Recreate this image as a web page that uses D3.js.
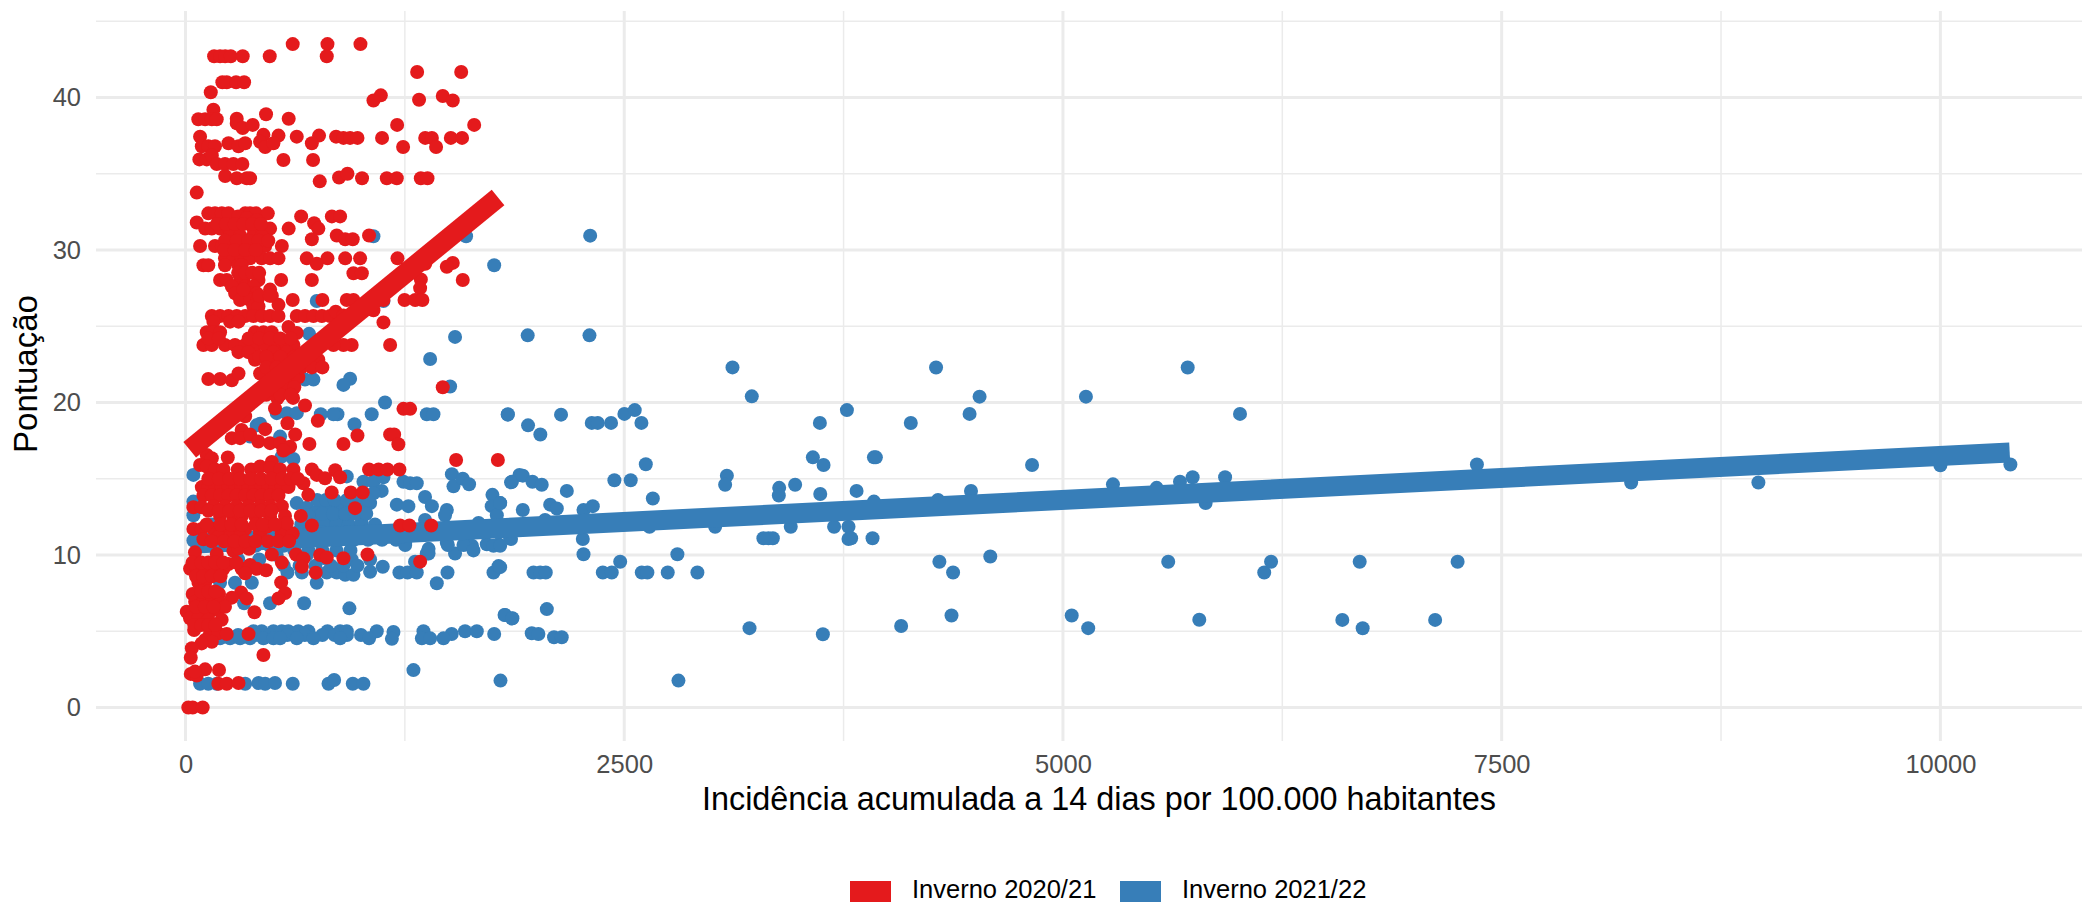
<!DOCTYPE html>
<html>
<head>
<meta charset="utf-8">
<script src="https://cdn.jsdelivr.net/npm/d3@7"></script>
<style>
  html, body { margin: 0; background: #fff; }
  text { font-family: "Liberation Sans", Arial, sans-serif; }
</style>
</head>
<body>
<script>
// Series: [incidence, score]
var red2020High = [
  [611,43.5],[809,43.5],[997,43.5],
  [163,42.7],[197,42.7],[226,42.7],[258,42.7],[326,42.7],[480,42.7],[805,42.7],
  [1320,41.67],[1571,41.67],
  [210,41],[235,41],[288,41],[334,41],
  [144,40.34],[1113,40.14],[1071,39.8],[1466,40.1],[1331,39.85],[1523,39.8],
  [159,39.2],[459,38.9],
  [73,38.57],[112,38.57],[150,38.57],[178,38.57],[292,38.6],[588,38.6],
  [292,38.3],[326,38],[383,38.2],[1206,38.2],[1645,38.2],
  [83,37.43],[444,37.55],[530,37.5],[634,37.43],[761,37.5],[858,37.43],[900,37.35],[938,37.35],[980,37.35],
  [1120,37.35],[1366,37.35],[1404,37.35],[1512,37.35],[1576,37.35],
  [93,36.8],[130,36.8],[168,36.8],[245,37],[302,36.8],[340,37],[425,37.1],[454,36.75],[501,37],[720,37],[1240,36.75],[1428,36.75],
  [79,35.94],[121,35.94],[150,36.2],[558,35.9],[727,35.9],
  [178,35.64],[225,35.64],[273,35.64],[324,35.64],
  [226,34.85],[292,34.7],[349,34.7],[368,34.7],[765,34.5],[875,34.75],[923,35],[1006,34.7],
  [1147,34.7],[1204,34.7],[1341,34.7],[1379,34.7],[64,33.76]
];
var red2020Mid = [
  [130,32.4],[168,32.4],[207,32.4],[245,32.4],[340,32.4],[368,32.4],[402,32.4],[469,32.4],[659,32.2],[834,32.2],[881,32.2],
  [64,31.8],[300,32.2],[349,32.1],[406,31.95],[733,31.75],
  [112,31.4],[150,31.4],[197,31.4],[245,31.4],[292,31.4],[387,31.4],[482,31.4],[588,31.4],[757,31.4],
  [254,31],[311,30.95],[387,30.95],[434,30.9],[862,30.95],[910,30.7],[953,30.7],[1046,30.95],[720,30.7],
  [83,30.26],[168,30.26],[207,30.26],[273,30.26],[330,30.26],[396,30.26],[454,30.26],[549,30.26],
  [225,30.6],[292,30.6],[358,30.6],[416,30.6],[472,30.6],
  [225,29.45],[273,29.45],[320,29.45],[368,29.45],[434,29.45],[482,29.45],[530,29.45],[691,29.45],[809,29.45],[910,29.45],[995,29.45],[1208,29.45],
  [748,29.1],[102,29],[130,29],[225,29],[302,29],[320,29],[1523,29.15],[1489,28.9],[1366,29.1],
  [957,28.47],[1005,28.47],
  [197,28.03],[235,28.03],[311,28.03],[330,28.03],[416,28.03],[545,28.03],[720,28.03],[1341,28.07],[1580,28.03],
  [264,27.6],[340,27.6],[387,27.6],[482,27.4],[1337,27.5],
  [283,27.15],[368,27.15],[406,27.15],[492,27],[350,26.9],
  [311,26.72],[368,26.72],[410,26.72],[611,26.72],[780,26.72],[919,26.72],[957,26.72],[1248,26.72],[1309,26.72],[1350,26.72],[1128,26.72],
  [387,26.3],[416,26.3],[530,26.4],
  [150,25.67],[197,25.67],[245,25.67],[292,25.67],[340,25.67],[387,25.67],[435,25.67],[482,25.67],[530,25.67],
  [634,25.67],[681,25.67],[729,25.67],[777,25.67],[824,25.67],[856,25.95],[900,25.7],[1071,26.05],
  [159,25.3],[254,25.3],[302,25.3],[1128,25.25],
  [121,24.6],[159,24.6],[197,24.6],[396,24.6],[444,24.6],[491,24.6],[587,24.95],[634,24.55],
  [102,23.77],[150,23.77],[225,23.77],[282,23.77],[340,23.77],[396,23.77],[454,23.77],[520,23.77],[577,23.77],[615,23.77],[947,23.77],[900,23.77],[843,23.77],[1166,23.77],
  [302,23.3],[358,23.3],[501,23.3],[577,23.3],[396,22.8],[482,22.8],[558,22.8],[672,22.8],[757,22.8],
  [130,21.54],[197,21.54],[264,21.45],[302,21.9],[425,21.9],[501,21.54],[577,21.54],[643,21.65],
  [1466,21],[613,20.3],[524,20.28],[510,19.6],[681,19.8],[1242,19.58],[1280,19.58],[754,18.8],[581,18.64],[340,19.1],
  [320,18.2],[454,18.25],[625,17.9],[980,17.83],[900,17.28],[706,17.28],[1166,17.9],[1189,17.9],[1213,17.26],
  [264,17.66],[311,17.66],[368,17.9],[415,17.44],[482,17.33],[539,17.33],[577,17],[596,17.1],[558,16.85]
];
var red2020Low = [
  [121,16.56],[150,16.34],[241,16.39],[83,15.9],[121,15.8],[1542,16.23],[1780,16.23],[492,16.1],
  [168,15.6],[216,15.6],[298,15.6],[374,15.6],[425,15.8],[482,15.7],[539,15.6],[615,15.6],[720,15.6],[853,15.55],[1046,15.6],[1100,15.6],[1151,15.6],[1219,15.6],
  [748,15.25],[795,15.03],[881,15.1],
  [93,14.45],[130,14.45],[168,14.45],[207,14.45],[245,14.45],[282,14.45],[320,14.45],[358,14.45],[396,14.45],[434,14.45],[472,14.45],[510,14.45],[549,14.45],[587,14.45],[672,14.7],[700,13.94],[833,14.1],[942,14.1],[1010,14.1],
  [102,13.9],[150,13.9],[197,13.9],[245,13.9],[292,13.9],[340,13.9],[387,13.9],[434,13.9],[482,13.9],[530,13.9],
  [159,13.2],[225,13.2],[292,13.2],[358,13.2],[425,13.2],[482,13.2],[549,13.2],[45,13.13],[92,13.13],[966,13.07],
  [197,12.56],[273,12.56],[320,12.56],[397,12.56],[482,12.5],[567,12.56],[657,12.56],[720,11.93],
  [45,11.7],[92,11.7],[159,11.7],[226,11.7],[282,11.7],[340,11.7],[425,11.43],[463,11.85],[548,11.4],[611,11.4],[577,12.08],
  [1223,11.93],[1276,11.93],[1400,11.93],
  [102,11.03],[187,11.2],[254,11.2],[311,11.2],
  [54,10.17],[178,10.06],[273,10.27],[302,10.44],[362,10.4],[492,10.03],[630,10.03],[672,9.77],[767,10],[805,9.83],[900,9.78],[1037,10.03],[1337,9.56],[549,9.5],[663,9.23],
  [26,9.1],[64,9.1],[102,9.1],[140,9.1],[178,9.1],[216,9.1],[245,9.4],[320,9.1],[368,9.34],[406,9.1],[459,9],[340,8.8],[742,8.84],
  [74,8.18],[112,8.18],[545,8.2],[41,7.44],[191,7.44],[317,7.53],[264,7.2],[349,7.15],[567,7.5],[530,7.15],
  [55,6.93],[102,6.93],[150,6.93],[197,6.85],
  [7,6.28],[45,6.3],[92,6.3],[140,6.3],[187,6.4],[225,6.6],[26,5.85],[73,5.85],[130,5.75],[206,5.75],[393,6.24],
  [49,5.08],[140,4.86],[187,4.86],[235,4.82],[359,4.82],[112,4.42],[150,4.31],[92,4.2],
  [36,3.88],[30,3.26],[444,3.44],[30,2.2],[64,2.1],[112,2.5],[54,2.35],[191,2.46],
  [187,1.55],[235,1.55],[302,1.6],[16,0],[41,0],[98,0]
];
// dense blobs where single dots can only be estimated
var red2020Dense = [
  [180,31.7],[230,31.7],[280,31.7],[330,31.7],[380,31.7],[430,31.7],
  [220,30],[280,30],[340,30],[400,30],[300,28.5],[340,28.5],[380,28.5],[420,28.5],
  [420,27],[480,27],[330,27.4],
  [130,24.2],[190,24.2],[360,24.2],[420,24.2],[480,24.2],[540,24.2],[600,24.2],
  [420,23],[460,23],[540,23],[620,23],[700,23],
  [460,22.3],[520,22.3],[600,22.3],[660,22.3],[720,22.3],[780,22.3],
  [440,21],[480,21],[560,21],[620,21],[460,20.5],[540,20.5],[600,20.5],
  [130,15],[190,15],[250,15],[310,15],[370,15],[430,15],[490,15],[550,15],[600,15],[640,15],
  [130,12.9],[190,12.9],[250,12.9],[310,12.9],[370,12.9],[430,12.9],[490,12.9],
  [120,12],[200,12],[260,12],[320,12],[400,12],[440,12],[510,12],
  [150,10.9],[220,10.9],[280,10.9],[340,10.9],[400,10.9],[470,10.9],[530,10.9],[590,10.9],
  [40,9.5],[90,9.5],[130,9.5],[170,9.5],[215,9.5],[290,9.5],
  [60,8.6],[100,8.6],[150,8.6],[200,8.6],[90,7.6],[130,7.6],[170,7.6],
  [60,6.6],[110,6.6],[160,6.6],[50,5.4],[90,5.4],[130,5.4],[170,5.4]
];
var blue2021Main = [
  [1071,30.9],[1599,30.9],[1759,29],[748,26.65],[1128,26.65],[1536,24.3],[1394,22.85],[704,24.5],[1508,21.05],
  [938,21.55],[900,21.15],[681,21.5],[729,21.5],[1137,20],[1061,19.23],[866,19.23],[843,19.23],[771,19.23],[963,18.57],
  [1375,19.23],[1413,19.23],[1837,19.23],[520,19.3],[577,19.3],[634,19.3],[406,18.5],[425,18.6],[368,17.76],[539,17.76],[615,16.3],[548,16.45],
  [45,15.25],[1518,15.3],[1527,14.5],[1580,15],[1616,14.64],[1860,14.8],[1903,15.25],
  [919,15.15],[1014,14.8],[1071,14.8],[1128,15.1],[1118,14.2],[1242,14.8],[1280,14.7],[1318,14.7],
  [1365,13.8],[1404,13.2],[1204,13.3],[1270,13.2],[1489,12.95],[1479,12.6],[1749,13.94],[1793,13.4],[1745,13.2],[1774,12.6],[1670,12.1],[1365,12.3],[1004,12.1],
  [45,13.5],[45,12.6],[150,12],[45,10.95],[92,10.95],
  [634,13.4],[691,13.1],[748,12.85],[805,13.2],[862,13.3],[900,13.1],[947,12.85],[1023,13.1],[1052,13.4],[1071,14.05],
  [767,12.3],[824,12.3],[900,12.3],[700,12.6],[660,12],[720,12],[790,12],[860,12],[930,12],[1000,12],[1080,12],
  [640,11],[720,11],[800,11],[880,11],[960,11],[1040,11],[1120,11],[1200,11],
  [1252,10.8],[1385,10.1],[1536,10.1],[1489,10.8],[1594,10.7],[1632,10.6],[1717,10.7],[1784,10.7],[1850,11.1],
  [520,10],[691,10],[786,9.8],[947,9.7],[1052,9.7],[1375,10.1],[1308,9.56],[1252,10.65],[1495,10.65],[1584,10.65],[1641,10.3],[1755,10.6],[1385,10.4],
  [250,10.6],[320,10.6],[400,10.6],[480,10.6],[560,10.6],[300,9.7],[420,9.7],
  [581,8.85],[663,8.85],[805,8.85],[862,8.85],[910,8.7],[957,8.7],[1052,8.9],[1219,8.85],[1265,8.85],[1318,8.85],[1493,8.85],[1755,8.85],[1784,9.27],[1124,9.23],
  [197,8.18],[282,8.18],[378,8.18],[748,8.18],[1432,8.14],
  [1818,6.06],[1860,5.84],[676,6.83],[934,6.5],[482,6.83],[334,6.83],
  [750,13.6],[800,13.6],[850,13.6],[920,13.6],[980,13.6],[1040,13.6],
  [780,12.7],[840,12.7],[910,12.7],[970,12.7],[1030,12.7],
  [640,11.5],[710,11.5],[780,11.5],[850,11.5],[920,11.5],[990,11.5],[1060,11.5],[1130,11.5],[1200,11.5],
  [620,10.3],[700,10.3],[780,10.3],[860,10.3],[940,10.3],
  [560,9.3],[650,9.3],[740,9.3],[830,9.3],[900,9.3],[980,9.3]
];
var blue2021Rows = [
  [387,5],[434,5],[501,5],[548,5],[586,5],[643,5],[700,5],[809,5],[881,5],[919,5],[1090,5],[1185,4.95],[1356,5],[1517,4.82],[1593,5],[1660,5],[1759,4.82],
  [200,4.75],[300,4.75],[400,4.75],[480,4.75],[580,4.75],[680,4.75],[780,4.75],[850,4.75],[920,4.75],[1000,4.75],
  [130,4.53],[165,4.53],[197,4.53],[254,4.53],[311,4.53],[368,4.53],[444,4.53],[501,4.53],[539,4.53],[634,4.53],[729,4.53],[881,4.53],[1046,4.53],[1176,4.5],[1347,4.53],[1394,4.53],[1470,4.53],
  [83,1.55],[130,1.55],[178,1.55],[340,1.55],[416,1.6],[454,1.55],[510,1.6],[611,1.55],[815,1.55],[847,1.8],[953,1.55],[1014,1.55],[1299,2.45],[1795,1.76]
];
var blue2021Far = [
  [2306,30.94],[1950,24.4],[2302,24.4],[3117,22.3],[3227,20.4],[1836,19.2],[1952,18.5],[2022,17.9],[2140,19.2],[2315,18.66],[2349,18.66],[2425,18.66],[2501,19.25],[2560,19.5],[2598,18.66],[3615,18.66],[3575,16.4],[3636,15.9],[3769,19.5],[2623,15.95],
  [1855,14.76],[1922,15.2],[1977,14.8],[2030,14.6],[2173,14.2],[2444,14.9],[2537,14.9],[2663,13.7],[3085,15.2],[3075,14.6],[3383,14.4],[3381,13.9],[3474,14.6],[3617,14],[1793,13.4],[1922,12.95],[2078,13.3],[2116,13.05],[2268,12.95],[2321,13.2],[2049,12.3],
  [2644,11.85],[3018,11.85],[3449,11.85],[3696,11.85],[3778,11.85],[3778,11.05],[3322,11.1],[3347,11.1],[2264,11.05],[1855,11.05],[1793,10.6],[2268,10.05],[2803,10.05],[2477,9.55],[1793,9.2],
  [1983,8.85],[2021,8.85],[2053,8.85],[2378,8.85],[2429,8.85],[2600,8.85],[2632,8.85],[2748,8.85],[2917,8.85],
  [2059,6.45],[1821,6.07],[1863,5.85],[1973,4.87],[2011,4.82],[2100,4.6],[2144,4.6],[3214,5.2],[3632,4.8],[2809,1.76],
  [3824,14.2],[3923,16.4],[3934,16.4],[3923,13.5],[4133,18.65],[4277,22.29],[4525,20.38],[4468,19.25],[4476,14.2],[4288,13.6],[4824,15.9],
  [4296,9.55],[4374,8.85],[4586,9.9],[4365,6.03],[4078,5.34],[3793,11.1],[3915,11.1],[3293,11.1],[5131,20.38],[5711,22.29],[6009,19.25],[5285,14.63],[5534,14.4],[5667,14.8],[5739,15.1],[5924,15.1],[5813,13.4],
  [5050,6.03],[5144,5.2],[5600,9.55],[5777,5.75],[6147,8.85],[6186,9.55],
  [7359,15.93],[8238,14.75],[8963,14.75],[10000,15.88],[10399,15.93],[6691,9.55],[7249,9.55],[6592,5.74],[6708,5.19],[7121,5.74]
];
var redLine = [[24,16.9],[1781,33.44]];
var blueLine = [[30,10.74],[10395,16.72]];

var xMajor = [0,2500,5000,7500,10000];
var xMinor = [1250,3750,6250,8750];
var yMajor = [0,10,20,30,40];
var yMinor = [5,15,25,35,45];
var legendLabels = ["Inverno 2020/21","Inverno 2021/22"];
var xTitle = "Incidência acumulada a 14 dias por 100.000 habitantes";
var yTitle = "Pontuação";
var red = "#E41A1C", blue = "#377EB8", gridColor = "#ebebeb";

function init() {
    var w = 2082, h = 903;
    var left = 96, right = 2082, top = 11, bottom = 741;

    var svg = d3.select("body").append("svg")
                .attr("width", w).attr("height", h)
                .style("display", "block");

    var xScale = d3.scaleLinear().domain([-510, 10807]).range([left, right]);
    var yScale = d3.scaleLinear().domain([-2.2, 45.67]).range([bottom, top]);

    // grid, minor lines first
    var grid = svg.append("g");
    function vLines(vals, sw) {
        grid.selectAll(null).data(vals).enter().append("line")
            .attr("x1", xScale).attr("x2", xScale)
            .attr("y1", top).attr("y2", bottom)
            .attr("stroke", gridColor).attr("stroke-width", sw);
    }
    function hLines(vals, sw) {
        grid.selectAll(null).data(vals).enter().append("line")
            .attr("x1", left).attr("x2", right)
            .attr("y1", yScale).attr("y2", yScale)
            .attr("stroke", gridColor).attr("stroke-width", sw);
    }
    hLines(yMinor, 1.5);
    vLines(xMinor, 1.5);
    hLines(yMajor, 3);
    vLines(xMajor, 3);

    function points(data, color) {
        svg.append("g").selectAll("circle").data(data).enter().append("circle")
            .attr("cx", function (d) { return xScale(d[0]); })
            .attr("cy", function (d) { return yScale(d[1]); })
            .attr("r", 7)
            .attr("fill", color);
    }
    var line = d3.line()
        .x(function (d) { return xScale(d[0]); })
        .y(function (d) { return yScale(d[1]); });
    function fit(data, color) {
        svg.append("path").attr("d", line(data))
            .attr("fill", "none").attr("stroke", color).attr("stroke-width", 20);
    }

    points(blue2021Main.concat(blue2021Rows, blue2021Far), blue);
    fit(blueLine, blue);
    points(red2020High.concat(red2020Mid, red2020Low, red2020Dense), red);
    fit(redLine, red);

    // axes, only the labels are kept
    var xAxis = svg.append("g").attr("transform", "translate(0," + 755 + ")")
        .call(d3.axisBottom(xScale).tickValues(xMajor).tickFormat(d3.format("d")).tickSize(0).tickPadding(0));
    var yAxis = svg.append("g").attr("transform", "translate(" + 81 + ",0)")
        .call(d3.axisLeft(yScale).tickValues(yMajor).tickFormat(d3.format("d")).tickSize(0).tickPadding(0));
    [xAxis, yAxis].forEach(function (a) {
        a.select(".domain").remove();
        a.selectAll("text")
            .attr("font-family", '"Liberation Sans", Arial, sans-serif')
            .attr("font-size", 25.5).attr("fill", "#4D4D4D");
    });

    svg.append("text").attr("x", 1099).attr("y", 810)
        .attr("text-anchor", "middle").attr("font-size", 32.4).attr("fill", "#000")
        .text(xTitle);
    svg.append("text").attr("transform", "translate(37,374) rotate(-90)")
        .attr("text-anchor", "middle").attr("font-size", 33).attr("fill", "#000")
        .text(yTitle);

    // legend
    var keyX = [850, 1120], labelX = [912, 1182], keyColors = [red, blue];
    legendLabels.forEach(function (t, i) {
        svg.append("rect").attr("x", keyX[i]).attr("y", 881)
            .attr("width", 41).attr("height", 21).attr("fill", keyColors[i]);
        svg.append("text").attr("x", labelX[i]).attr("y", 897.5)
            .attr("font-size", 25.5).attr("fill", "#000").text(t);
    });
}

window.onload = init;
</script>
</body>
</html>
